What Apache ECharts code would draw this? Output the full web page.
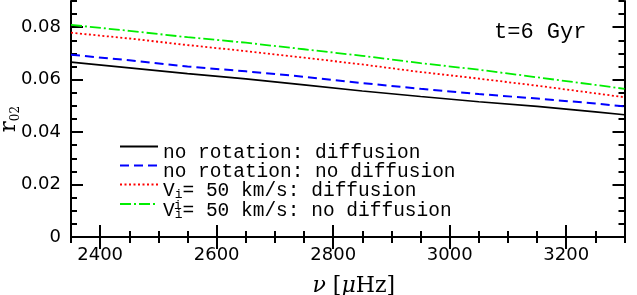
<!DOCTYPE html>
<html>
<head>
<meta charset="utf-8">
<script src="https://cdn.jsdelivr.net/npm/echarts@6/dist/echarts.min.js"></script>
<style>
html,body{margin:0;padding:0;background:#fff;}
#chart{width:637px;height:295px;}
</style>
</head>
<body>
<div id="chart"></div>
<script>
// ---- data ----
const freq = [2350, 2450, 2550, 2650, 2750, 2850, 2950, 3050, 3150, 3250, 3300];
const noRotDiff   = [0.0667, 0.0645, 0.0623, 0.0603, 0.0580, 0.0557, 0.0536, 0.0516, 0.0498, 0.0477, 0.0466];
const noRotNoDiff = [0.0695, 0.0674, 0.0650, 0.0632, 0.0611, 0.0587, 0.0565, 0.0545, 0.0528, 0.0509, 0.0498];
const v50Diff     = [0.0779, 0.0757, 0.0732, 0.0709, 0.0684, 0.0658, 0.0629, 0.0604, 0.0577, 0.0548, 0.0533];
const v50NoDiff   = [0.0809, 0.0786, 0.0762, 0.0741, 0.0716, 0.0691, 0.0663, 0.0638, 0.0609, 0.0580, 0.0565];
const seriesNames = ['no rotation: diffusion', 'no rotation: no diffusion', 'V= 50 km/s: diffusion', 'V= 50 km/s: no diffusion'];
const xTickLabels = [2400, 2600, 2800, 3000, 3200];
const yTickLabels = [0, 0.02, 0.04, 0.06, 0.08];
const xMinorTicks = [2350, 2400, 2450, 2500, 2550, 2600, 2650, 2700, 2750, 2800, 2850, 2900, 2950, 3000, 3050, 3100, 3150, 3200, 3250, 3300];
const yMinorTicks = [0, 0.005, 0.01, 0.015, 0.02, 0.025, 0.03, 0.035, 0.04, 0.045, 0.05, 0.055, 0.06, 0.065, 0.07, 0.075, 0.08, 0.085, 0.09];
const panelLabel = 't=6 Gyr';

const pairs = arr => freq.map((f, i) => [f, arr[i]]);
const chart = echarts.init(document.getElementById('chart'), null, {renderer: 'canvas'});

const AX = '#000';
function xAx(pos, major, line, labels) {
  return {
    type: 'value', position: pos, min: 2350, max: 3300,
    axisLine: {show: line, lineStyle: {color: AX, width: 2}},
    axisTick: {show: true, inside: true, length: major ? 12 : 6, lineStyle: {color: AX, width: 2},
               customValues: major ? xTickLabels : xMinorTicks},
    axisLabel: labels ? {show: true, customValues: xTickLabels, color: '#000', fontFamily: 'DejaVu Sans', fontSize: 18, margin: 9,
                         formatter: v => String(v)}
                      : {show: false},
    splitLine: {show: false}
  };
}
function yAx(pos, major, line, labels) {
  return {
    type: 'value', position: pos, min: 0, max: 0.09,
    axisLine: {show: line, lineStyle: {color: AX, width: 2}},
    axisTick: {show: true, inside: true, length: major ? 12 : 6, lineStyle: {color: AX, width: 2},
               customValues: major ? yTickLabels : yMinorTicks},
    axisLabel: labels ? {show: true, customValues: yTickLabels, color: '#000', fontFamily: 'DejaVu Sans', fontSize: 18, margin: 10,
                         formatter: v => v === 0 ? '0' : v.toFixed(2)}
                      : {show: false},
    splitLine: {show: false}
  };
}

const xAxes = [xAx('bottom', true, true, true), xAx('bottom', false, false, false), xAx('top', true, true, false), xAx('top', false, false, false)];
xAxes[0].name = '{i|ν} [{i|μ}Hz]';
xAxes[0].nameLocation = 'middle';
xAxes[0].nameGap = 38;
xAxes[0].nameMoveOverlap = false;
xAxes[0].nameTextStyle = {fontFamily: 'DejaVu Serif', fontSize: 22, color: '#000', padding: [0, 0, 0, 12],
  rich: {i: {fontFamily: 'DejaVu Serif', fontStyle: 'italic', fontSize: 22, color: '#000'}}};

const yAxes = [yAx('left', true, true, true), yAx('left', false, false, false), yAx('right', true, true, false), yAx('right', false, false, false)];
yAxes[0].name = '{r|r}{s|02}';
yAxes[0].nameLocation = 'middle';
yAxes[0].nameRotate = 90;
yAxes[0].nameGap = 44;
yAxes[0].nameMoveOverlap = false;
yAxes[0].nameTextStyle = {color: '#000', rich: {
  r: {fontFamily: 'DejaVu Serif', fontSize: 23, color: '#000', padding: [0, 0, 6, 0]},
  s: {fontFamily: 'DejaVu Serif', fontSize: 12, color: '#000', padding: [6, 0, 0, 0]}
}};

const LEG = 'Liberation Mono';
const legendText = {
  [seriesNames[0]]: '{t|no rotation: diffusion}',
  [seriesNames[1]]: '{t|no rotation: no diffusion}',
  [seriesNames[2]]: '{t|V}{s|i}{t|= 50 km/s: diffusion}',
  [seriesNames[3]]: '{t|V}{s|i}{t|= 50 km/s: no diffusion}'
};

const option = {
  animation: false,
  backgroundColor: '#fff',
  grid: {left: 71, right: 12.5, top: 1, bottom: 58, outerBoundsMode: 'none', containLabel: false},
  xAxis: xAxes,
  yAxis: yAxes,
  legend: {
    orient: 'vertical', left: 114, top: 132, itemWidth: 38, itemHeight: 12, itemGap: -7,
    data: seriesNames,
    itemStyle: {opacity: 0},
    formatter: n => legendText[n],
    textStyle: {fontFamily: LEG, fontSize: 19.5, color: '#000', lineHeight: 6, padding: [13, 0, 0, 0],
      rich: {
        t: {fontFamily: LEG, fontSize: 19.5, color: '#000', lineHeight: 6},
        s: {fontFamily: LEG, fontSize: 13, color: '#000', lineHeight: 6, padding: [8, 0, 0, 0]}
      }}
  },
  graphic: [
    {type: 'text', left: 494, top: 21, style: {text: panelLabel, font: '22px "Liberation Mono"', fill: '#000'}},
    {type: 'text', left: 174, top: 199, style: {text: 'i', font: '13px "Liberation Mono"', fill: '#000'}}
  ],
  series: [
    {name: seriesNames[0], type: 'line', symbol: 'none', data: pairs(noRotDiff), lineStyle: {color: '#000', width: 1.6, type: 'solid'}, itemStyle: {color: '#000'}},
    {name: seriesNames[1], type: 'line', symbol: 'none', data: pairs(noRotNoDiff), lineStyle: {color: '#0000ff', width: 2, type: [9, 5]}, itemStyle: {color: '#0000ff'}},
    {name: seriesNames[2], type: 'line', symbol: 'none', data: pairs(v50Diff), lineStyle: {color: '#ff0000', width: 1.8, type: [2, 2.5]}, itemStyle: {color: '#ff0000'}},
    {name: seriesNames[3], type: 'line', symbol: 'none', data: pairs(v50NoDiff), lineStyle: {color: '#00ee00', width: 1.8, type: [11, 3, 2, 3]}, itemStyle: {color: '#00ee00'}}
  ]
};
chart.setOption(option);
</script>
</body>
</html>
